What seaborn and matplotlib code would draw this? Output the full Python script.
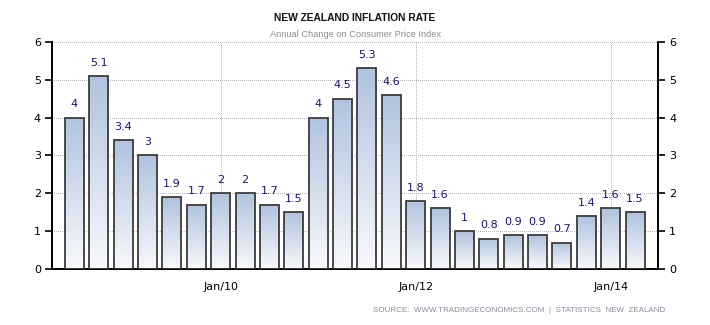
import numpy as np
import pandas as pd
import matplotlib
matplotlib.use("Agg")
import matplotlib.pyplot as plt
import seaborn as sns

# Quarterly annual CPI change, New Zealand
quarters = ["Jul/08", "Oct/08", "Jan/09", "Apr/09", "Jul/09", "Oct/09",
            "Jan/10", "Apr/10", "Jul/10", "Oct/10", "Jan/11", "Apr/11",
            "Jul/11", "Oct/11", "Jan/12", "Apr/12", "Jul/12", "Oct/12",
            "Jan/13", "Apr/13", "Jul/13", "Oct/13", "Jan/14", "Apr/14"]
inflation = [4.0, 5.1, 3.4, 3.0, 1.9, 1.7, 2.0, 2.0, 1.7, 1.5, 4.0, 4.5,
             5.3, 4.6, 1.8, 1.6, 1.0, 0.8, 0.9, 0.9, 0.7, 1.4, 1.6, 1.5]
value_labels = ["4", "5.1", "3.4", "3", "1.9", "1.7", "2", "2", "1.7", "1.5",
                "4", "4.5", "5.3", "4.6", "1.8", "1.6", "1", "0.8", "0.9",
                "0.9", "0.7", "1.4", "1.6", "1.5"]
tick_labels = ["Jan/10", "Jan/12", "Jan/14"]
y_ticks = [0, 1, 2, 3, 4, 5, 6]

df = pd.DataFrame({"quarter": quarters, "inflation": inflation})

sns.set_style("white")
plt.rcParams["font.family"] = ["DejaVu Sans"]

fig = plt.figure(figsize=(7.10, 3.25), dpi=100)
ax = fig.add_axes([0.0732, 0.1723, 0.8536, 0.6985])

sns.barplot(data=df, x="quarter", y="inflation", order=quarters,
            facecolor="none", edgecolor="#3c3c3c", linewidth=1.3,
            width=0.78, ax=ax, zorder=3)

# vertical gradient fill inside each bar
grad = np.linspace(0, 1, 256).reshape(-1, 1)
cmap = matplotlib.colors.LinearSegmentedColormap.from_list(
    "barfill", ["#f8f9fd", "#b0c3de"])
for patch in list(ax.patches):
    x0 = patch.get_x()
    w = patch.get_width()
    h = patch.get_height()
    im = ax.imshow(grad, cmap=cmap, origin="lower", aspect="auto",
                   extent=[x0, x0 + w, 0, h], zorder=2)
    im.set_clip_path(patch)

for i, (v, lab) in enumerate(zip(inflation, value_labels)):
    ax.text(i, v + 0.22, lab, ha="center", va="bottom", fontsize=8,
            color="#1b1464", zorder=4)

ax.set_xlim(-0.92, 23.94)
ax.set_ylim(0, 6)
ax.set_yticks(y_ticks)
ax.set_yticklabels([str(t) for t in y_ticks], fontsize=8)
tick_pos = [quarters.index(t) for t in tick_labels]
ax.set_xticks(tick_pos)
ax.set_xticklabels(tick_labels, fontsize=8)
ax.set_xlabel("")
ax.set_ylabel("")

# dotted grid on a whole-pixel pattern (1px dot, 2px gap)
px = 72 / fig.dpi
grid_style = dict(linestyle=(0, (1, 2)), color="#b8b8b8", linewidth=px,
                  antialiased=False, zorder=1)
ax.grid(False)
for t in y_ticks[1:]:
    ax.axhline(t, **grid_style)
for p in tick_pos:
    ax.axvline(p, **grid_style)

# value axis mirrored on the right-hand side
ax.tick_params(axis="both", direction="out", length=5, width=1.2,
               colors="black", pad=3)
ax.tick_params(axis="x", pad=4)
ax.tick_params(axis="y", left=True, right=True, labelleft=True,
               labelright=True)

ax.spines["top"].set_visible(False)
for side in ["left", "bottom", "right"]:
    ax.spines[side].set_color("black")
    ax.spines[side].set_linewidth(1.4)

fig.text(0.5, 0.945, "NEW ZEALAND INFLATION RATE", ha="center", va="center",
         fontsize=7.4, fontweight="bold", color="#111111",
         family=["Liberation Sans", "DejaVu Sans"])
fig.text(0.5, 0.895, "Annual Change on Consumer Price Index", ha="center",
         va="center", fontsize=6.7, color="#8c8c8c",
         family=["Liberation Sans", "DejaVu Sans"])
fig.text(0.937, 0.045,
         "SOURCE:  WWW.TRADINGECONOMICS.COM  |  STATISTICS  NEW  ZEALAND",
         ha="right", va="center", fontsize=5.8, color="#8a8a9a",
         family=["Liberation Sans", "DejaVu Sans"])

fig.savefig("out.png", dpi=100)
